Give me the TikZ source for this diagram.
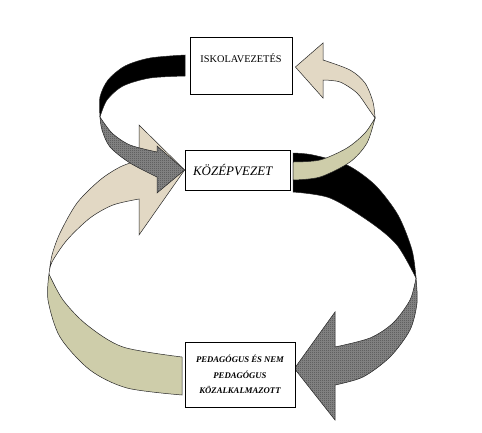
\documentclass[tikz,border=0pt]{standalone}
\usepackage{fontspec}
\setmainfont{Liberation Serif}
\usetikzlibrary{
  positioning, calc, backgrounds, patterns, patterns.meta
}
\definecolor{tanfill}{RGB}{226,216,196}
\definecolor{olivefill}{RGB}{206,205,170}
\tikzdeclarepattern{
	name=finecheck,
	type=uncolored,
	bottom left={(0pt,0pt)},
	top right={(2pt,2pt)},
	tile size={(2pt,2pt)},
	code={
		\fill (0pt,0pt) rectangle (1pt,1pt);
		\fill (1pt,1pt) rectangle (2pt,2pt);
	}
}
\tikzset{
	ribbonline/.style={draw=black!85, line width=0.5pt}
}
\tikzset{
	tanpart/.style={ribbonline, fill=tanfill},
	olivepart/.style={ribbonline, fill=olivefill},
	blackpart/.style={ribbonline, fill=black},
	checkpart/.style={ribbonline, preaction={fill=black!45}, pattern=finecheck, pattern color=black!80}
}

\begin{document}
\begin{tikzpicture}[x=1pt,y=-1pt]

\tikzset{
    boxnode/.style={
        shape=rectangle,
        draw=black,
        line width=0.8pt,
        fill=white,
        inner sep=0pt
    }
}

\useasboundingbox (0,0) rectangle (482,432);

\node[boxnode, minimum width=102pt, minimum height=57pt, text depth=15pt,
  font=\fontsize{10.3}{12}\selectfont] (iskola) at (241,65.5) {ISKOLAVEZETÉS};
\node[boxnode, minimum width=105pt, minimum height=40pt, text width=89pt, align=left,
  inner xsep=8pt, font=\fontsize{13}{15}\selectfont\itshape] (kozep) at (237.5,170) {KÖZÉPVEZET};
\node[boxnode, minimum width=110pt, minimum height=65pt, align=center,
  font=\fontsize{8.7}{15.5}\selectfont\bfseries\itshape] (peda) at (240,374.5)
  {PEDAGÓGUS ÉS NEM\\PEDAGÓGUS\\KÖZALKALMAZOTT};

\begin{scope}[on background layer]
\path[olivepart] plot[smooth] coordinates {(182,395) (127,388) (90,370) (60,337) (48,300) (49,274)}
  -- plot[smooth] coordinates {(49,274) (63,300) (87,325) (123,347) (182,357)} -- cycle;
\path[tanpart] plot[smooth] coordinates {(49,274) (52,255) (60,233) (77,203) (100,180) (120,167) (139,160)}
  -- (139,125) -- (kozep.west) -- (139,235) -- (139,199)
  -- plot[smooth] coordinates {(139,199) (113,205) (90,218) (67,240) (52,262) (49,274)} -- cycle;

\path[blackpart] plot[smooth] coordinates {(185,55) (150,58) (125,66) (108,80) (100,97) (100,117)}
  -- plot[smooth] coordinates {(100,117) (107,100) (123,86) (150,78) (185,76)} -- cycle;
\path[checkpart] plot[smooth] coordinates {(100,117) (102,130) (110,147) (130,163) (157,177)}
  -- (157,193) -- (kozep.west) -- (157,146) -- (157,152)
  -- plot[smooth] coordinates {(157,152) (130,145) (112,133) (100,117)} -- cycle;

\path[blackpart] plot[smooth] coordinates {(293,153) (313,155) (347,165) (375,185) (398,215) (412,250) (416,278)}
  -- plot[smooth] coordinates {(416,278) (397,245) (370,222) (330,198) (293,192)} -- cycle;
\path[checkpart] plot[smooth] coordinates {(416,278) (417,303) (410,330) (390,357) (363,377) (335,385)}
  -- (335,420) -- ($(peda.east)+(-1,-6)$) -- (335,312) -- (335,347)
  -- plot[smooth] coordinates {(335,347) (370,338) (393,323) (410,300) (416,278)} -- cycle;

\path[olivepart] plot[smooth] coordinates {(293,180) (320,177) (350,162) (367,143) (375,118)}
  -- plot[smooth] coordinates {(375,118) (365,133) (347,148) (320,160) (293,162)} -- cycle;
\path[tanpart] plot[smooth] coordinates {(375,118) (373,102) (365,83) (350,70) (323,60)}
  -- (323,43) -- ($(iskola.east)+(3,1.5)$) -- (323,98) -- (323,80)
  -- plot[smooth] coordinates {(323,80) (340,82) (357,93) (368,108) (375,118)} -- cycle;
\end{scope}
\end{tikzpicture}
\end{document}
